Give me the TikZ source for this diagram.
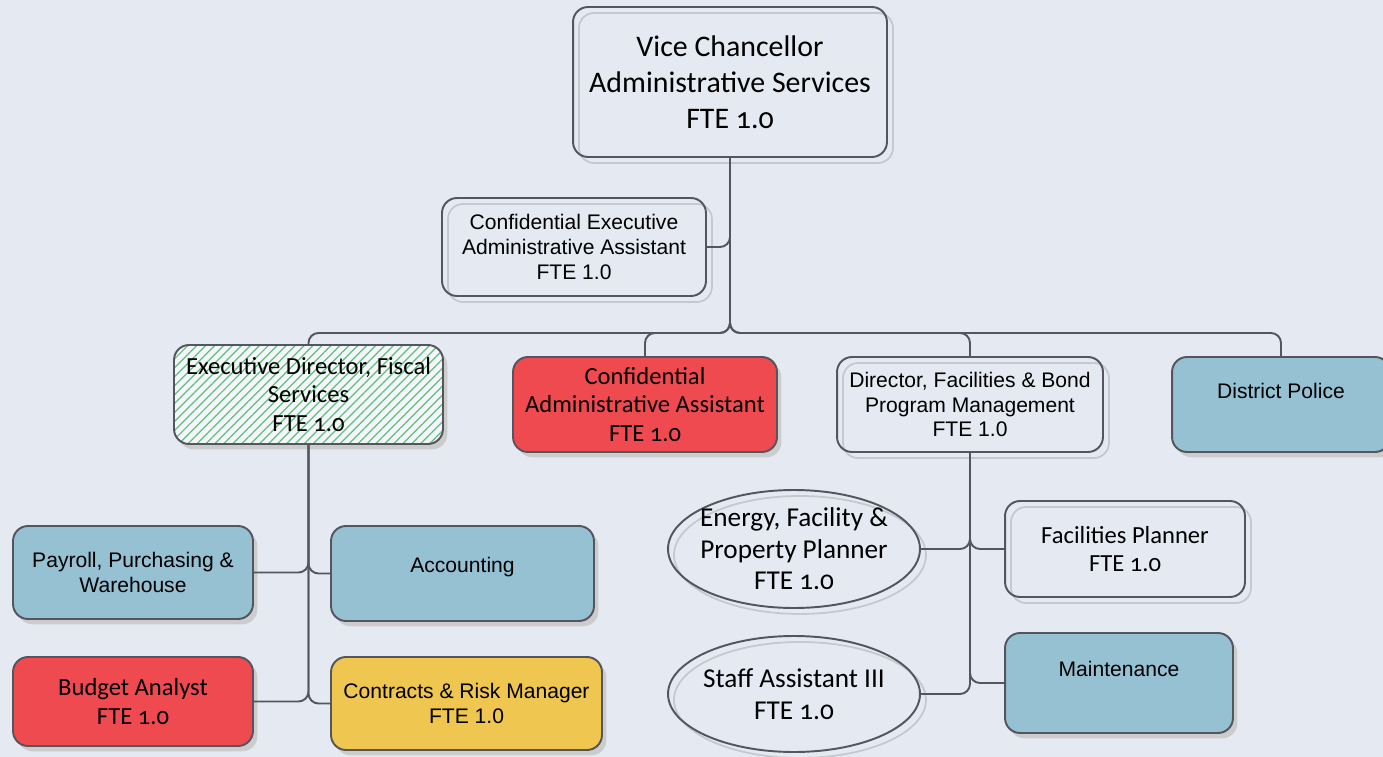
\documentclass[tikz,border=0pt]{standalone}
\usepackage{fontspec}
\setmainfont{Liberation Sans}
\newfontfamily\candfont{Carlito}[Numbers=OldStyle]
\usepackage{tikz}
\usetikzlibrary{shapes.geometric, patterns.meta}

\definecolor{bgblue}{RGB}{229,233,242}
\definecolor{boxblue}{RGB}{150,193,211}
\definecolor{boxred}{RGB}{239,74,80}
\definecolor{boxyellow}{RGB}{239,199,80}
\definecolor{linegray}{RGB}{85,85,95}
\definecolor{ghostgray}{RGB}{198,200,207}
\definecolor{hatchgreen}{RGB}{95,190,125}

\begin{document}
\begin{tikzpicture}[x=0.02cm, y=-0.02cm]
    \tikzstyle{unit}=[rectangle, rounded corners=0.3cm, draw=linegray, line width=1.1pt, align=center, inner sep=2pt]
    \tikzstyle{plain}=[unit, preaction={draw=ghostgray, line width=1pt, transform canvas={shift={(3.4pt,-3.4pt)}}}]
    \tikzstyle{filled}=[unit, preaction={fill=black!20, transform canvas={shift={(2.5pt,-3pt)}}}]
    \tikzstyle{oval}=[ellipse, draw=linegray, line width=1.1pt, align=center, inner sep=-0.3cm, minimum width=5.04cm, preaction={draw=ghostgray, line width=1pt, transform canvas={shift={(3.4pt,-3.4pt)}}}]
    \tikzstyle{link}=[draw=linegray, line width=1.1pt, rounded corners=0.2cm]
    \tikzstyle{cand}=[font=\candfont\fontsize{14}{16.4}\selectfont]
    \tikzstyle{arial}=[font=\fontsize{12}{14.2}\selectfont]
    \tikzset{uptext/.style={text depth=#1}}

    \useasboundingbox[fill=bgblue] (0,0) rectangle (1383,757);

    % top
    \node[plain, minimum width=6.28cm, minimum height=3cm, font=\candfont\fontsize{17}{20.4}\selectfont] (vc) at (730,82) {Vice Chancellor\\Administrative Services\\FTE 1.0};
    \node[plain, arial, minimum width=5.28cm, minimum height=1.96cm] (ceaa) at (574,247) {Confidential Executive\\Administrative Assistant\\FTE 1.0};

    % second row
    \node[filled, cand, minimum width=5.38cm, minimum height=1.98cm, preaction={fill=white!60!bgblue}, pattern={Lines[angle=45, distance=3.6pt, line width=0.7pt]}, pattern color=hatchgreen] (ed) at (308.5,394.5) {Executive Director, Fiscal\\Services\\FTE 1.0};
    \node[filled, cand, fill=boxred, minimum width=5.28cm, minimum height=1.9cm] (caa) at (645,404.5) {Confidential\\Administrative Assistant\\FTE 1.0};
    \node[plain, arial, minimum width=5.32cm, minimum height=1.9cm] (dir) at (970,404.5) {Director, Facilities \& Bond\\Program Management\\FTE 1.0};
    \node[filled, arial, fill=boxblue, minimum width=4.36cm, minimum height=1.9cm, uptext=0.55cm] (police) at (1281,404.5) {District Police};

    % fiscal services
    \node[filled, arial, fill=boxblue, minimum width=4.8cm, minimum height=1.86cm] (payroll) at (133,572.5) {Payroll, Purchasing \&\\Warehouse};
    \node[filled, arial, fill=boxblue, minimum width=5.26cm, minimum height=1.9cm, uptext=0.33cm] (acct) at (462.5,573.5) {Accounting};
    \node[filled, cand, fill=boxred, minimum width=4.8cm, minimum height=1.78cm] (budget) at (133,701.5) {Budget Analyst\\FTE 1.0};
    \node[filled, arial, fill=boxyellow, minimum width=5.42cm, minimum height=1.86cm] (contracts) at (466.5,703.5) {Contracts \& Risk Manager\\FTE 1.0};

    % facilities
    \node[oval, minimum height=2.36cm, font=\candfont\fontsize{15.5}{17.9}\selectfont] (energy) at (794,549) {Energy, Facility \&\\Property Planner\\FTE 1.0};
    \node[oval, minimum height=2.32cm, font=\candfont\fontsize{15.5}{18.1}\selectfont] (staff) at (794,694) {Staff Assistant III\\FTE 1.0};
    \node[plain, cand, minimum width=4.8cm, minimum height=1.92cm] (fplan) at (1125,549) {Facilities Planner\\FTE 1.0};
    \node[filled, arial, fill=boxblue, minimum width=4.56cm, minimum height=2cm, uptext=0.58cm] (maint) at (1119,683) {Maintenance};

    \coordinate (bus) at (0,333);

    \draw[link] (vc.south) -- (vc.south |- ceaa.east) -- (ceaa.east);
    \draw[link] (vc.south) -- (vc.south |- bus) -- (ed.north |- bus) -- (ed.north);
    \draw[link] (vc.south) -- (vc.south |- bus) -- (caa.north |- bus) -- (caa.north);
    \draw[link] (vc.south) -- (vc.south |- bus) -- (dir.north |- bus) -- (dir.north);
    \draw[link] (vc.south) -- (vc.south |- bus) -- (police.north |- bus) -- (police.north);

    \draw[link] (ed.south) -- (ed.south |- payroll.east) -- (payroll.east);
    \draw[link] (ed.south) -- (ed.south |- acct.west) -- (acct.west);
    \draw[link] (ed.south) -- (ed.south |- budget.east) -- (budget.east);
    \draw[link] (ed.south) -- (ed.south |- contracts.west) -- (contracts.west);

    \draw[link] (dir.south) -- (dir.south |- energy.east) -- (energy.east);
    \draw[link] (dir.south) -- (dir.south |- fplan.west) -- (fplan.west);
    \draw[link] (dir.south) -- (dir.south |- staff.east) -- (staff.east);
    \draw[link] (dir.south) -- (dir.south |- maint.west) -- (maint.west);
\end{tikzpicture}
\end{document}
